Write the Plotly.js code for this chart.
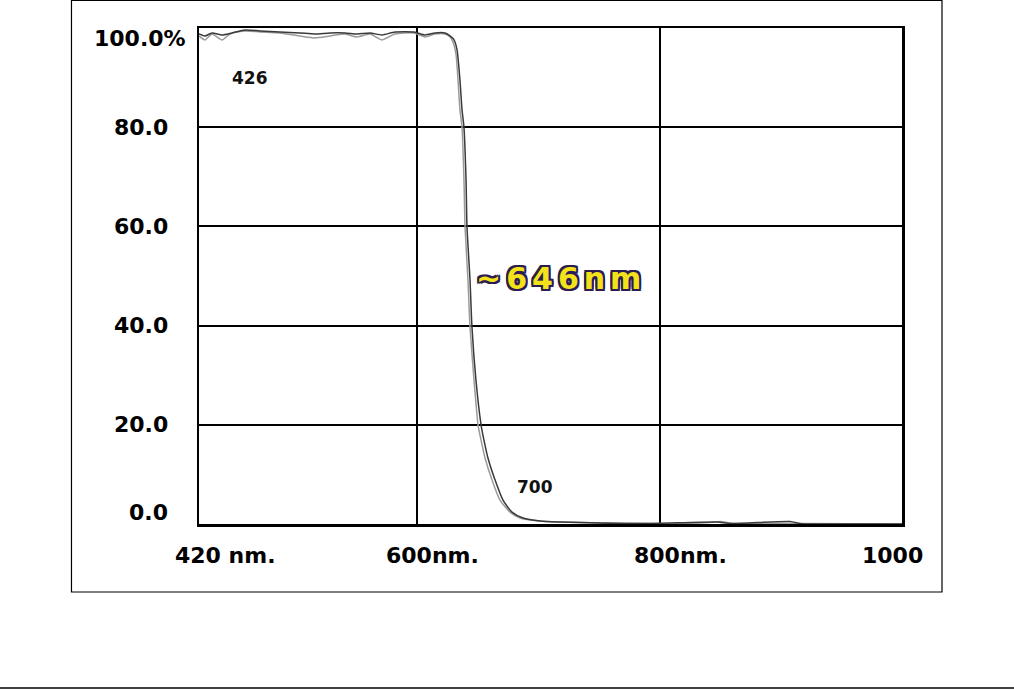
<!DOCTYPE html>
<html>
<head>
<meta charset="utf-8">
<script src="https://cdn.plot.ly/plotly-3.0.1.min.js"></script>
<style>
  html, body { margin: 0; padding: 0; background: #ffffff; }
  #chart { width: 1014px; height: 690px; }
  g.annotation[data-index="12"] text { letter-spacing: 5px; }
</style>
</head>
<body>
<div id="chart"></div>
<script>
// Wavelength (nm) and transmission (%) for the two measured curves
var scanA_nm = [420.0, 425.0, 430.7, 439.0, 447.2, 458.0, 470.3, 486.8, 503.3, 515.7, 528.1, 540.4, 550.4, 561.1, 571.0, 581.7, 597.4, 606.5, 614.7, 623.0, 627.1, 630.4, 632.9, 635.3, 637.0, 638.6, 640.3, 641.1, 643.6, 645.2, 648.5, 652.7, 655.1, 658.4, 664.2, 670.8, 678.2, 687.3, 701.3, 717.8, 750.8, 792.1, 847.4, 858.1, 907.6, 915.8, 924.0, 1000.0];
var scanA_T  = [98.8, 98.4, 99.0, 98.6, 99.0, 99.6, 99.4, 99.2, 99.0, 98.8, 99.0, 99.0, 98.8, 99.0, 98.6, 99.2, 99.2, 98.6, 99.0, 99.0, 98.4, 97.6, 95.6, 89.5, 83.5, 80.0, 69.4, 59.9, 49.2, 39.7, 29.0, 20.0, 16.9, 13.3, 8.9, 4.8, 2.4, 1.2, 0.6, 0.4, 0.2, 0.1, 0.4, 0.1, 0.5, 0.1, 0.0, 0.0];

var scanB_nm = [420.0, 425.0, 430.7, 439.0, 445.6, 458.0, 470.3, 486.8, 503.3, 515.7, 528.1, 540.4, 550.4, 561.1, 571.0, 581.7, 597.4, 606.5, 614.7, 623.0, 627.1, 629.5, 632.1, 633.7, 635.3, 637.0, 638.6, 639.5, 641.9, 643.6, 646.9, 650.2, 652.7, 656.0, 661.7, 668.3, 676.6, 684.8, 701.3, 717.8, 750.8, 800.3, 841.6, 850.0, 862.0, 915.8, 1000.0];
var scanB_T  = [98.4, 97.6, 98.8, 97.6, 98.8, 99.4, 99.2, 99.0, 98.4, 98.0, 98.4, 98.8, 98.2, 98.8, 97.6, 98.8, 99.0, 98.2, 98.8, 98.8, 98.2, 97.2, 94.6, 89.5, 83.5, 80.0, 69.4, 59.9, 49.2, 39.7, 29.0, 20.0, 16.9, 13.3, 8.9, 4.8, 2.4, 1.2, 0.6, 0.4, 0.2, 0.1, 0.3, 0.5, 0.1, 0.1, 0.0];

// Axis ticks and labels
var xTickVals = [420, 600, 800, 1000];
var xTickText = ["420 nm.", "600nm.", "800nm.", "1000"];
var yTickVals = [100, 80, 60, 40, 20, 0];
var yTickText = ["100.0%", "80.0", "60.0", "40.0", "20.0", "0.0"];

// Curve annotations
var markNames = ["426", "700"];
var markNm = [462, 697];
var markT = [89.9, 7.5];
var cutoffText = "~646nm";
var cutoffNm = 719;
var cutoffT = 49.5;

var tickFont = { family: "DejaVu Sans", size: 22, color: "#000000", weight: "bold" };

var annotations = [];
// x tick labels
var xAnchors = ["left", "left", "left", "right"];
var xShifts = [-26, -33, -28, 23];
for (var i = 0; i < xTickVals.length; i++) {
  annotations.push({
    x: xTickVals[i], xref: "x", y: -0.0645, yref: "paper",
    text: xTickText[i], showarrow: false,
    xanchor: xAnchors[i], yanchor: "middle", xshift: xShifts[i],
    font: tickFont
  });
}
// y tick labels
var yShifts = [-10, 0, 0, 0, 0, 12];
for (var j = 0; j < yTickVals.length; j++) {
  annotations.push({
    x: j === 0 ? -0.0156 : -0.0412, xref: "paper",
    y: yTickVals[j], yref: "y",
    text: yTickText[j], showarrow: false,
    xanchor: "right", yanchor: "middle", yshift: yShifts[j],
    font: tickFont
  });
}
for (var k = 0; k < markNames.length; k++) {
  annotations.push({
    x: markNm[k], y: markT[k], xref: "x", yref: "y",
    text: markNames[k], showarrow: false,
    xanchor: "center", yanchor: "middle",
    font: { family: "DejaVu Sans", size: 17, color: "#111111", weight: "bold" }
  });
}
var oc = "#2b1d50";
annotations.push({
  x: cutoffNm, y: cutoffT, xref: "x", yref: "y",
  text: cutoffText, showarrow: false,
  xanchor: "center", yanchor: "middle",
  font: {
    family: "DejaVu Sans", size: 30, color: "#f3e21a", weight: "bold",
    shadow: "2px 2px 0 " + oc + ", -2px -2px 0 " + oc + ", 2px -2px 0 " + oc + ", -2px 2px 0 " + oc +
            ", 0 2px 0 " + oc + ", 0 -2px 0 " + oc + ", 2px 0 0 " + oc + ", -2px 0 0 " + oc
  }
});

var traces = [
  {
    x: scanB_nm, y: scanB_T, type: "scatter", mode: "lines",
    line: { color: "#9a9a9a", width: 1.5, shape: "spline", smoothing: 0.6 },
    hoverinfo: "skip", showlegend: false
  },
  {
    x: scanA_nm, y: scanA_T, type: "scatter", mode: "lines",
    line: { color: "#3a3a3a", width: 1.5, shape: "spline", smoothing: 0.6 },
    hoverinfo: "skip", showlegend: false
  }
];

var layout = {
  width: 1014, height: 690,
  margin: { l: 199, r: 112, t: 28, b: 166, pad: 0 },
  paper_bgcolor: "#ffffff", plot_bgcolor: "#ffffff",
  showlegend: false,
  xaxis: {
    range: [420, 1000], type: "linear",
    tickvals: xTickVals, ticktext: xTickText, showticklabels: false,
    ticks: "", showgrid: true, gridcolor: "#000000", gridwidth: 2,
    showline: true, linecolor: "#000000", linewidth: 2.5, mirror: true,
    zeroline: false, fixedrange: true
  },
  yaxis: {
    range: [0, 100], type: "linear",
    tickvals: yTickVals, ticktext: yTickText, showticklabels: false,
    ticks: "", showgrid: true, gridcolor: "#000000", gridwidth: 2,
    showline: true, linecolor: "#000000", linewidth: 2.5, mirror: true,
    zeroline: false, fixedrange: true
  },
  annotations: annotations,
  shapes: [
    {
      type: "rect", xref: "paper", yref: "paper",
      x0: -0.1814, x1: 1.0569, y0: -0.1371, y1: 1.0554,
      line: { color: "#000000", width: 1.2 }, fillcolor: "rgba(0,0,0,0)", layer: "above"
    },
    {
      type: "line", xref: "paper", yref: "paper",
      x0: -0.2831, x1: 1.1593, y0: -0.3306, y1: -0.3306,
      line: { color: "#000000", width: 1.5 }, layer: "above"
    }
  ]
};

Plotly.newPlot("chart", traces, layout, { displayModeBar: false, staticPlot: true });
</script>
</body>
</html>
